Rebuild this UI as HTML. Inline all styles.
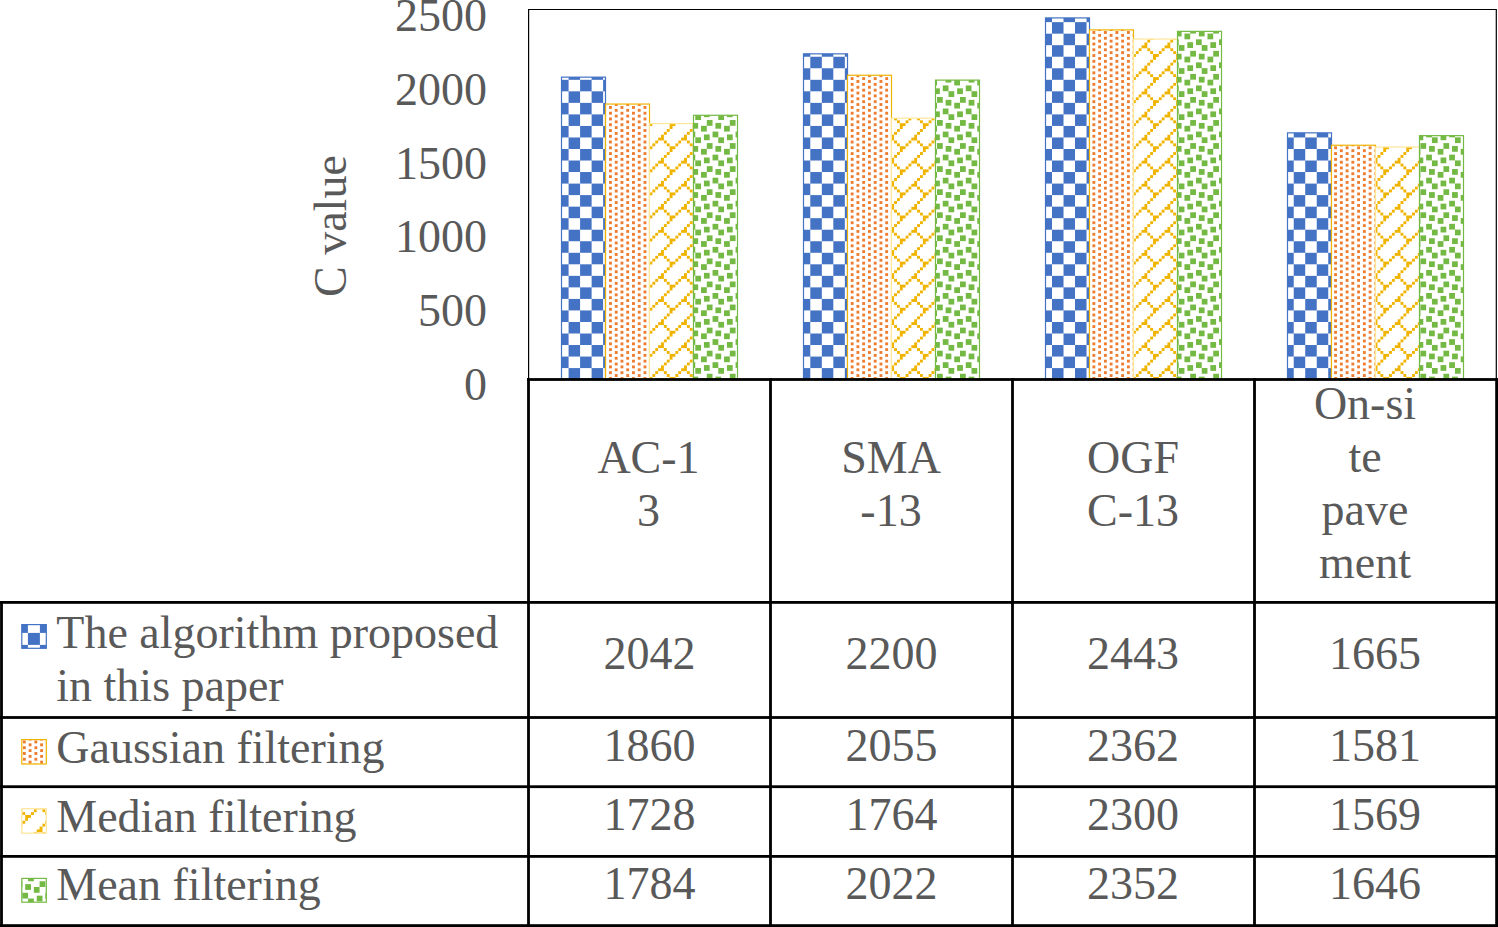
<!DOCTYPE html>
<html><head><meta charset="utf-8"><style>
html,body{margin:0;padding:0;background:#fff;}
body{width:1498px;height:927px;overflow:hidden;}
svg{display:block;}
text{font-family:'Liberation Serif', serif;font-size:46px;fill:#595959;}
</style></head><body>
<svg width="1498" height="927" viewBox="0 0 1498 927">
<defs>
<pattern id="gblue" patternUnits="userSpaceOnUse" x="580.10" y="79.80" width="23.020" height="23.064"><rect width="23.020" height="23.064" fill="#fff"/><path d="M0.000 0.000h2.877v2.883h-2.877zM2.877 0.000h2.877v2.883h-2.877zM5.755 0.000h2.877v2.883h-2.877zM8.633 0.000h2.877v2.883h-2.877zM0.000 2.883h2.877v2.883h-2.877zM2.877 2.883h2.877v2.883h-2.877zM5.755 2.883h2.877v2.883h-2.877zM8.633 2.883h2.877v2.883h-2.877zM0.000 5.766h2.877v2.883h-2.877zM2.877 5.766h2.877v2.883h-2.877zM5.755 5.766h2.877v2.883h-2.877zM8.633 5.766h2.877v2.883h-2.877zM0.000 8.649h2.877v2.883h-2.877zM2.877 8.649h2.877v2.883h-2.877zM5.755 8.649h2.877v2.883h-2.877zM8.633 8.649h2.877v2.883h-2.877zM11.510 11.532h2.877v2.883h-2.877zM14.387 11.532h2.877v2.883h-2.877zM17.265 11.532h2.877v2.883h-2.877zM20.142 11.532h2.877v2.883h-2.877zM11.510 14.415h2.877v2.883h-2.877zM14.387 14.415h2.877v2.883h-2.877zM17.265 14.415h2.877v2.883h-2.877zM20.142 14.415h2.877v2.883h-2.877zM11.510 17.298h2.877v2.883h-2.877zM14.387 17.298h2.877v2.883h-2.877zM17.265 17.298h2.877v2.883h-2.877zM20.142 17.298h2.877v2.883h-2.877zM11.510 20.181h2.877v2.883h-2.877zM14.387 20.181h2.877v2.883h-2.877zM17.265 20.181h2.877v2.883h-2.877zM20.142 20.181h2.877v2.883h-2.877z" fill="#4472C4"/></pattern>
<pattern id="gorange" patternUnits="userSpaceOnUse" x="609.00" y="106.00" width="23.020" height="23.064"><rect width="23.020" height="23.064" fill="#fff"/><path d="M0.000 0.000h2.877v2.883h-2.877zM11.510 0.000h2.877v2.883h-2.877zM5.755 2.883h2.877v2.883h-2.877zM17.265 2.883h2.877v2.883h-2.877zM0.000 5.766h2.877v2.883h-2.877zM11.510 5.766h2.877v2.883h-2.877zM5.755 8.649h2.877v2.883h-2.877zM17.265 8.649h2.877v2.883h-2.877zM0.000 11.532h2.877v2.883h-2.877zM11.510 11.532h2.877v2.883h-2.877zM5.755 14.415h2.877v2.883h-2.877zM17.265 14.415h2.877v2.883h-2.877zM0.000 17.298h2.877v2.883h-2.877zM11.510 17.298h2.877v2.883h-2.877zM5.755 20.181h2.877v2.883h-2.877zM17.265 20.181h2.877v2.883h-2.877z" fill="#ED7D31"/></pattern>
<pattern id="ggold" patternUnits="userSpaceOnUse" x="649.50" y="42.50" width="23.020" height="23.064"><rect width="23.020" height="23.064" fill="#fff"/><path d="M11.510 0.000h2.877v2.883h-2.877zM8.633 2.883h2.877v2.883h-2.877zM11.510 2.883h2.877v2.883h-2.877zM5.755 5.766h2.877v2.883h-2.877zM14.387 5.766h2.877v2.883h-2.877zM2.877 8.649h2.877v2.883h-2.877zM17.265 8.649h2.877v2.883h-2.877zM0.000 11.532h2.877v2.883h-2.877zM20.142 11.532h2.877v2.883h-2.877zM20.142 14.415h2.877v2.883h-2.877zM17.265 17.298h2.877v2.883h-2.877zM14.387 20.181h2.877v2.883h-2.877z" fill="#F0B400"/></pattern>
<pattern id="ggreen" patternUnits="userSpaceOnUse" x="1178.70" y="42.20" width="23.020" height="23.064"><rect width="23.020" height="23.064" fill="#fff"/><path d="M8.633 0.000h2.877v2.883h-2.877zM11.510 0.000h2.877v2.883h-2.877zM17.265 0.000h2.877v2.883h-2.877zM20.142 0.000h2.877v2.883h-2.877zM0.000 2.883h2.877v2.883h-2.877zM2.877 2.883h2.877v2.883h-2.877zM8.633 2.883h2.877v2.883h-2.877zM11.510 2.883h2.877v2.883h-2.877zM0.000 5.766h2.877v2.883h-2.877zM2.877 5.766h2.877v2.883h-2.877zM11.510 8.649h2.877v2.883h-2.877zM14.387 8.649h2.877v2.883h-2.877zM0.000 11.532h2.877v2.883h-2.877zM11.510 11.532h2.877v2.883h-2.877zM14.387 11.532h2.877v2.883h-2.877zM20.142 11.532h2.877v2.883h-2.877zM0.000 14.415h2.877v2.883h-2.877zM5.755 14.415h2.877v2.883h-2.877zM8.633 14.415h2.877v2.883h-2.877zM20.142 14.415h2.877v2.883h-2.877zM5.755 17.298h2.877v2.883h-2.877zM8.633 17.298h2.877v2.883h-2.877zM17.265 20.181h2.877v2.883h-2.877zM20.142 20.181h2.877v2.883h-2.877z" fill="#74B944"/></pattern>
<pattern id="k0" patternUnits="userSpaceOnUse" x="15.90" y="620.90" width="24.000" height="24.000"><rect width="24.000" height="24.000" fill="#fff"/><path d="M0.000 0.000h3.000v3.000h-3.000zM3.000 0.000h3.000v3.000h-3.000zM6.000 0.000h3.000v3.000h-3.000zM9.000 0.000h3.000v3.000h-3.000zM0.000 3.000h3.000v3.000h-3.000zM3.000 3.000h3.000v3.000h-3.000zM6.000 3.000h3.000v3.000h-3.000zM9.000 3.000h3.000v3.000h-3.000zM0.000 6.000h3.000v3.000h-3.000zM3.000 6.000h3.000v3.000h-3.000zM6.000 6.000h3.000v3.000h-3.000zM9.000 6.000h3.000v3.000h-3.000zM0.000 9.000h3.000v3.000h-3.000zM3.000 9.000h3.000v3.000h-3.000zM6.000 9.000h3.000v3.000h-3.000zM9.000 9.000h3.000v3.000h-3.000zM12.000 12.000h3.000v3.000h-3.000zM15.000 12.000h3.000v3.000h-3.000zM18.000 12.000h3.000v3.000h-3.000zM21.000 12.000h3.000v3.000h-3.000zM12.000 15.000h3.000v3.000h-3.000zM15.000 15.000h3.000v3.000h-3.000zM18.000 15.000h3.000v3.000h-3.000zM21.000 15.000h3.000v3.000h-3.000zM12.000 18.000h3.000v3.000h-3.000zM15.000 18.000h3.000v3.000h-3.000zM18.000 18.000h3.000v3.000h-3.000zM21.000 18.000h3.000v3.000h-3.000zM12.000 21.000h3.000v3.000h-3.000zM15.000 21.000h3.000v3.000h-3.000zM18.000 21.000h3.000v3.000h-3.000zM21.000 21.000h3.000v3.000h-3.000z" fill="#4472C4"/></pattern>
<pattern id="k1" patternUnits="userSpaceOnUse" x="22.90" y="740.50" width="23.020" height="23.064"><rect width="23.020" height="23.064" fill="#fff"/><path d="M0.000 0.000h2.877v2.883h-2.877zM11.510 0.000h2.877v2.883h-2.877zM5.755 2.883h2.877v2.883h-2.877zM17.265 2.883h2.877v2.883h-2.877zM0.000 5.766h2.877v2.883h-2.877zM11.510 5.766h2.877v2.883h-2.877zM5.755 8.649h2.877v2.883h-2.877zM17.265 8.649h2.877v2.883h-2.877zM0.000 11.532h2.877v2.883h-2.877zM11.510 11.532h2.877v2.883h-2.877zM5.755 14.415h2.877v2.883h-2.877zM17.265 14.415h2.877v2.883h-2.877zM0.000 17.298h2.877v2.883h-2.877zM11.510 17.298h2.877v2.883h-2.877zM5.755 20.181h2.877v2.883h-2.877zM17.265 20.181h2.877v2.883h-2.877z" fill="#ED7D31"/></pattern>
<pattern id="k2" patternUnits="userSpaceOnUse" x="5.06" y="803.50" width="23.020" height="23.064"><rect width="23.020" height="23.064" fill="#fff"/><path d="M11.510 0.000h2.877v2.883h-2.877zM8.633 2.883h2.877v2.883h-2.877zM11.510 2.883h2.877v2.883h-2.877zM5.755 5.766h2.877v2.883h-2.877zM14.387 5.766h2.877v2.883h-2.877zM2.877 8.649h2.877v2.883h-2.877zM17.265 8.649h2.877v2.883h-2.877zM0.000 11.532h2.877v2.883h-2.877zM20.142 11.532h2.877v2.883h-2.877zM20.142 14.415h2.877v2.883h-2.877zM17.265 17.298h2.877v2.883h-2.877zM14.387 20.181h2.877v2.883h-2.877z" fill="#F0B400"/></pattern>
<pattern id="k3" patternUnits="userSpaceOnUse" x="5.06" y="872.60" width="23.020" height="23.064"><rect width="23.020" height="23.064" fill="#fff"/><path d="M8.633 0.000h2.877v2.883h-2.877zM11.510 0.000h2.877v2.883h-2.877zM17.265 0.000h2.877v2.883h-2.877zM20.142 0.000h2.877v2.883h-2.877zM0.000 2.883h2.877v2.883h-2.877zM2.877 2.883h2.877v2.883h-2.877zM8.633 2.883h2.877v2.883h-2.877zM11.510 2.883h2.877v2.883h-2.877zM0.000 5.766h2.877v2.883h-2.877zM2.877 5.766h2.877v2.883h-2.877zM11.510 8.649h2.877v2.883h-2.877zM14.387 8.649h2.877v2.883h-2.877zM0.000 11.532h2.877v2.883h-2.877zM11.510 11.532h2.877v2.883h-2.877zM14.387 11.532h2.877v2.883h-2.877zM20.142 11.532h2.877v2.883h-2.877zM0.000 14.415h2.877v2.883h-2.877zM5.755 14.415h2.877v2.883h-2.877zM8.633 14.415h2.877v2.883h-2.877zM20.142 14.415h2.877v2.883h-2.877zM5.755 17.298h2.877v2.883h-2.877zM8.633 17.298h2.877v2.883h-2.877zM17.265 20.181h2.877v2.883h-2.877zM20.142 20.181h2.877v2.883h-2.877z" fill="#74B944"/></pattern>
</defs>
<rect width="1498" height="927" fill="#fff"/>
<rect x="561.50" y="77.16" width="44" height="301.84" fill="url(#gblue)" stroke="#4472C4" stroke-width="1.2"/>
<rect x="605.50" y="104.04" width="44" height="274.96" fill="url(#gorange)" stroke="#F0B400" stroke-width="1.2"/>
<rect x="649.50" y="123.54" width="44" height="255.46" fill="url(#ggold)" stroke="#FFE699" stroke-width="1.2"/>
<rect x="693.50" y="115.27" width="44" height="263.73" fill="url(#ggreen)" stroke="#74B944" stroke-width="1.2"/>
<rect x="803.50" y="53.82" width="44" height="325.18" fill="url(#gblue)" stroke="#4472C4" stroke-width="1.2"/>
<rect x="847.50" y="75.24" width="44" height="303.76" fill="url(#gorange)" stroke="#F0B400" stroke-width="1.2"/>
<rect x="891.50" y="118.22" width="44" height="260.78" fill="url(#ggold)" stroke="#FFE699" stroke-width="1.2"/>
<rect x="935.50" y="80.11" width="44" height="298.89" fill="url(#ggreen)" stroke="#74B944" stroke-width="1.2"/>
<rect x="1045.50" y="17.92" width="44" height="361.08" fill="url(#gblue)" stroke="#4472C4" stroke-width="1.2"/>
<rect x="1089.50" y="29.89" width="44" height="349.11" fill="url(#gorange)" stroke="#F0B400" stroke-width="1.2"/>
<rect x="1133.50" y="39.04" width="44" height="339.96" fill="url(#ggold)" stroke="#FFE699" stroke-width="1.2"/>
<rect x="1177.50" y="31.36" width="44" height="347.64" fill="url(#ggreen)" stroke="#74B944" stroke-width="1.2"/>
<rect x="1287.50" y="132.85" width="44" height="246.15" fill="url(#gblue)" stroke="#4472C4" stroke-width="1.2"/>
<rect x="1331.50" y="145.25" width="44" height="233.75" fill="url(#gorange)" stroke="#F0B400" stroke-width="1.2"/>
<rect x="1375.50" y="147.03" width="44" height="231.97" fill="url(#ggold)" stroke="#FFE699" stroke-width="1.2"/>
<rect x="1419.50" y="135.65" width="44" height="243.35" fill="url(#ggreen)" stroke="#74B944" stroke-width="1.2"/>
<path d="M528.6 380V9.5H1496.3V380" fill="none" stroke="#000" stroke-width="1.2"/>
<text x="487" y="400.0" text-anchor="end">0</text>
<text x="487" y="326.1" text-anchor="end">500</text>
<text x="487" y="252.3" text-anchor="end">1000</text>
<text x="487" y="178.5" text-anchor="end">1500</text>
<text x="487" y="104.6" text-anchor="end">2000</text>
<text x="487" y="30.8" text-anchor="end">2500</text>
<text transform="translate(345.8 226.1) rotate(-90)" text-anchor="middle">C value</text>
<rect x="527" y="378.10" width="971" height="2.8" fill="#000"/>
<rect x="0" y="601.00" width="1498" height="2.8" fill="#000"/>
<rect x="0" y="716.10" width="1498" height="2.8" fill="#000"/>
<rect x="0" y="785.30" width="1498" height="2.8" fill="#000"/>
<rect x="0" y="855.00" width="1498" height="2.8" fill="#000"/>
<rect x="0" y="924.20" width="1498" height="2.8" fill="#000"/>
<rect x="0.10" y="601" width="2.8" height="326" fill="#000"/>
<rect x="527.10" y="378" width="2.8" height="549" fill="#000"/>
<rect x="769.10" y="378" width="2.8" height="549" fill="#000"/>
<rect x="1011.10" y="378" width="2.8" height="549" fill="#000"/>
<rect x="1253.10" y="378" width="2.8" height="549" fill="#000"/>
<rect x="1495.20" y="378" width="2.8" height="549" fill="#000"/>
<text x="648.5" y="473.0" text-anchor="middle">AC-1</text>
<text x="648.5" y="526.3" text-anchor="middle">3</text>
<text x="891" y="473.3" text-anchor="middle">SMA</text>
<text x="891" y="526.0" text-anchor="middle">-13</text>
<text x="1133" y="472.8" text-anchor="middle">OGF</text>
<text x="1133" y="525.6" text-anchor="middle">C-13</text>
<text x="1365" y="419.1" text-anchor="middle">On-si</text>
<text x="1365" y="472.0" text-anchor="middle">te</text>
<text x="1365" y="525.0" text-anchor="middle">pave</text>
<text x="1365" y="578.1" text-anchor="middle">ment</text>
<text x="649.5" y="669.4" text-anchor="middle">2042</text>
<text x="891.5" y="669.4" text-anchor="middle">2200</text>
<text x="1133" y="669.4" text-anchor="middle">2443</text>
<text x="1375" y="669.4" text-anchor="middle">1665</text>
<text x="649.5" y="760.6" text-anchor="middle">1860</text>
<text x="891.5" y="760.6" text-anchor="middle">2055</text>
<text x="1133" y="760.6" text-anchor="middle">2362</text>
<text x="1375" y="760.6" text-anchor="middle">1581</text>
<text x="649.5" y="830.4" text-anchor="middle">1728</text>
<text x="891.5" y="830.4" text-anchor="middle">1764</text>
<text x="1133" y="830.4" text-anchor="middle">2300</text>
<text x="1375" y="830.4" text-anchor="middle">1569</text>
<text x="649.5" y="898.9" text-anchor="middle">1784</text>
<text x="891.5" y="898.9" text-anchor="middle">2022</text>
<text x="1133" y="898.9" text-anchor="middle">2352</text>
<text x="1375" y="898.9" text-anchor="middle">1646</text>
<text x="56.3" y="648.0">The algorithm proposed</text>
<text x="56.3" y="700.9">in this paper</text>
<text x="56.3" y="763.2">Gaussian filtering</text>
<text x="56.3" y="831.8">Median filtering</text>
<text x="56.3" y="900.2">Mean filtering</text>
<rect x="21.80" y="624.60" width="24.50" height="23.70" fill="url(#k0)" stroke="#4472C4" stroke-width="1.2"/>
<rect x="21.80" y="739.60" width="24.50" height="24.40" fill="url(#k1)" stroke="#F0B400" stroke-width="1.2"/>
<rect x="21.80" y="808.70" width="24.50" height="24.50" fill="url(#k2)" stroke="#FFE699" stroke-width="1.2"/>
<rect x="21.80" y="878.40" width="24.50" height="23.80" fill="url(#k3)" stroke="#74B944" stroke-width="1.2"/>
</svg>
</body></html>
